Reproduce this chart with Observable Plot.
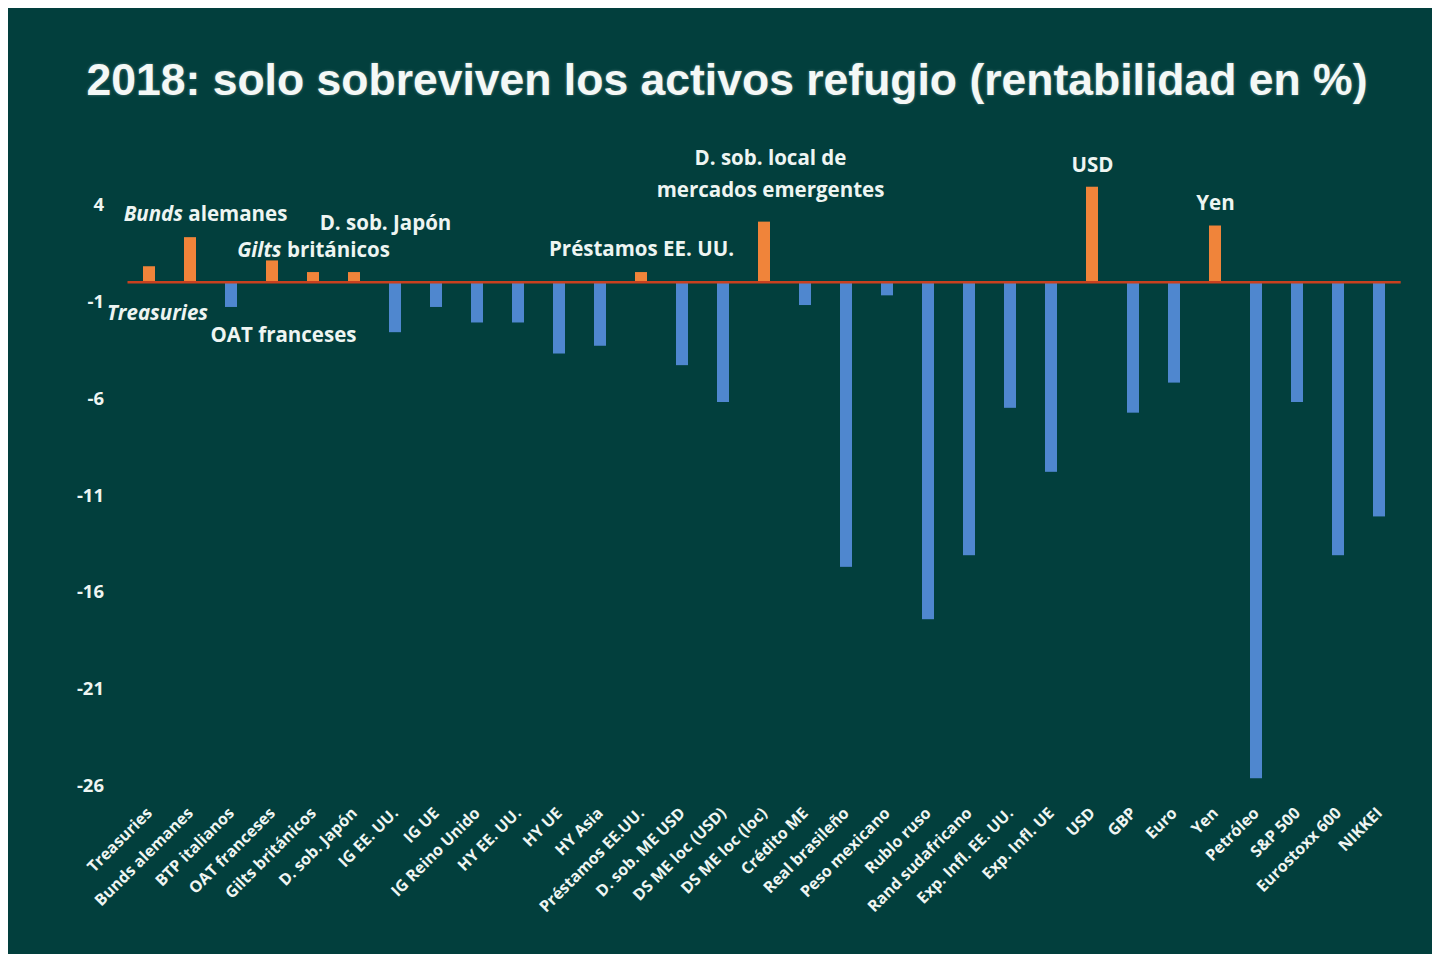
<!DOCTYPE html>
<html>
<head>
<meta charset="utf-8">
<script src="https://cdn.jsdelivr.net/npm/d3@7"></script>
<script src="https://cdn.jsdelivr.net/npm/@observablehq/plot@0.6"></script>
<style>
  html, body { margin: 0; padding: 0; background: #ffffff; }
  #frame {
    position: absolute; left: 8px; top: 8px; width: 1424px; height: 946px;
    background: #023f3d; overflow: hidden;
  }
  #title {
    position: absolute; left: 0; top: 46px; width: 1424px; text-align: center;
    font-family: "Liberation Sans", Arial, sans-serif; font-weight: bold;
    font-size: 44.5px; line-height: 52px; color: #f4f8f6; padding-left: 14px; box-sizing: border-box;
    white-space: nowrap;
    text-shadow: 0 0 3px rgba(255,255,255,0.35);
  }
  #chart { position: absolute; left: 0; top: 122px; }
</style>
</head>
<body>
<div id="frame">
  <div id="title">2018: solo sobreviven los activos refugio (rentabilidad en %)</div>
  <div id="chart"></div>
</div>
<script>
const categories = [
  "Treasuries", "Bunds alemanes", "BTP italianos", "OAT franceses", "Gilts británicos",
  "D. sob. Japón", "IG EE. UU.", "IG UE", "IG Reino Unido", "HY EE. UU.", "HY UE",
  "HY Asia", "Préstamos EE.UU.", "D. sob. ME USD", "DS ME loc (USD)", "DS ME loc (loc)",
  "Crédito ME", "Real brasileño", "Peso mexicano", "Rublo ruso", "Rand sudafricano",
  "Exp. Infl. EE. UU.", "Exp. Infl. UE", "USD", "GBP", "Euro", "Yen", "Petróleo",
  "S&P 500", "Eurostoxx 600", "NIKKEI"
];
const returns2018 = [
  0.8, 2.3, -1.3, 1.1, 0.5,
  0.5, -2.6, -1.3, -2.1, -2.1, -3.7,
  -3.3, 0.5, -4.3, -6.2, 3.1,
  -1.2, -14.7, -0.7, -17.4, -14.1,
  -6.5, -9.8, 4.9, -6.75, -5.2, 2.9, -25.6,
  -6.2, -14.1, -12.1
];
const yTicks = [4, -1, -6, -11, -16, -21, -26];

// Annotation labels: category anchor, value level, italic prefix, rest
const noteCats   = ["Bunds alemanes", "D. sob. Japón", "Gilts británicos", "Treasuries", "OAT franceses", "Préstamos EE.UU.", "DS ME loc (loc)", "DS ME loc (loc)", "USD", "Yen"];
const noteLevels = [3.5, 3.05, 1.65, -1.6, -2.75, 1.7, 6.4, 4.75, 6.0, 4.07];
const noteItalic = ["Bunds", "", "Gilts", "Treasuries", "", "", "", "", "", ""];
const noteRest   = [" alemanes", "D. sob. Japón", " británicos", "", "OAT franceses", "Préstamos EE. UU.", "D. sob. local de", "mercados emergentes", "USD", "Yen"];
const noteShift  = [15, 31, 0, 8, 11, 0, 6, 6, 0, 0];

const data = categories.map((c, i) => ({cat: c, value: returns2018[i]}));
const notes = noteCats.map((c, i) => ({cat: c, y: noteLevels[i], it: noteItalic[i], rest: noteRest[i], dx: noteShift[i]}));

const ORANGE = "#f0843a", BLUE = "#4f87cf", RED = "#c9401f", TXT = "#eef5f2";
const FONT = "'Open Sans', Lato, sans-serif";

const chart = Plot.plot({
  width: 1424,
  height: 818,
  marginLeft: 119.5,
  marginRight: 31.3,
  marginTop: 16,
  marginBottom: 162,
  style: {background: "transparent", color: TXT, fontFamily: FONT},
  x: {domain: categories, paddingInner: 0.7, paddingOuter: 0.35, label: null},
  y: {domain: [-26, 7], label: null},
  marks: [
    Plot.barY(data, {x: "cat", y: "value", fill: d => d.value >= 0 ? ORANGE : BLUE}),
    Plot.ruleY([0], {stroke: RED, strokeWidth: 2.5}),
    Plot.axisY({ticks: yTicks, tickSize: 0, tickPadding: 24, fontSize: 18.5, fontWeight: "bold", fill: TXT, tickFormat: d => String(d)}),
    Plot.axisX({tickSize: 0, tickPadding: 24, tickRotate: -45, fontSize: 16, fontWeight: "bold", fill: TXT}),
    ...notes.map(n => Plot.text([n], {
      x: "cat", y: "y", dx: n.dx, text: d => d.it + d.rest,
      fontSize: 20.5, fontWeight: "bold", fill: TXT, className: "notes"
    }))
  ]
});

document.getElementById("chart").appendChild(chart);

// Render italic prefixes as real text spans
const noteNodes = chart.querySelectorAll(".notes text");
noteNodes.forEach((t, i) => {
  const n = notes[i];
  if (!n || !n.it) return;
  t.textContent = "";
  const s1 = document.createElementNS("http://www.w3.org/2000/svg", "tspan");
  s1.setAttribute("font-style", "italic");
  s1.textContent = n.it;
  t.appendChild(s1);
  if (n.rest) {
    const s2 = document.createElementNS("http://www.w3.org/2000/svg", "tspan");
    s2.textContent = n.rest;
    t.appendChild(s2);
  }
  t.setAttribute("style", "white-space: pre");
});
</script>
</body>
</html>
